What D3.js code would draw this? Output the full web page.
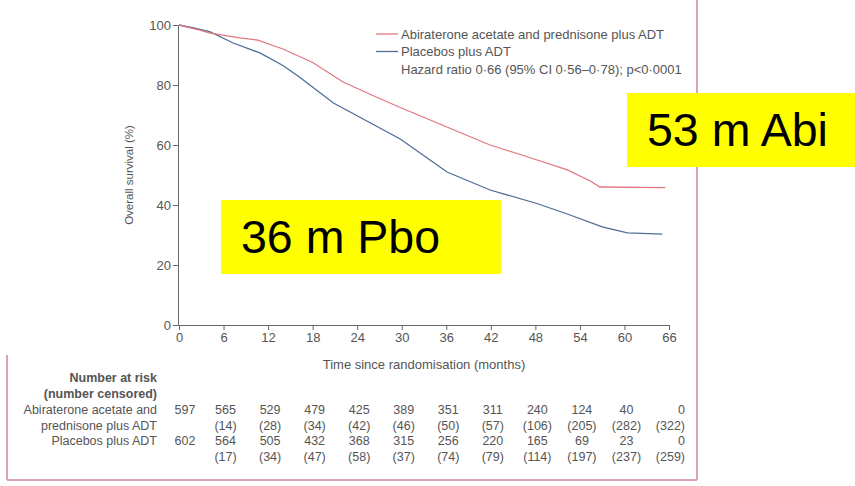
<!DOCTYPE html>
<html>
<head>
<meta charset="utf-8">
<script src="https://cdn.jsdelivr.net/npm/d3@7"></script>
<style>
  body { margin: 0; background: #fff; }
  svg { display: block; }
  text { font-family: "Liberation Sans", Arial, sans-serif; fill: #555; }
</style>
</head>
<body>
<div id="chart"></div>
<script>
// survival curves: [month, percent]
const abiMonths = [0, 2.8, 4.2, 8.2, 10.5, 14, 18, 22.1, 26.1, 29.8, 35.6, 41.9, 47, 52.3, 55.4, 56.7, 65.5];
const abiSurvival = [100, 98.3, 97.3, 95.7, 95, 92, 87.5, 81, 76.5, 72.5, 66.5, 60, 56, 51.7, 48, 46, 45.8];
const pboMonths = [0, 2, 4.2, 7.3, 10.9, 14, 16.3, 20.8, 25.3, 29.8, 36.1, 41.9, 48.2, 52.3, 57, 60.4, 65.1];
const pboSurvival = [100, 99, 97.7, 94, 90.7, 86.5, 82.5, 74, 68, 62, 51, 45, 40.5, 37, 32.7, 30.7, 30.3];

const xTicks = [0, 6, 12, 18, 24, 30, 36, 42, 48, 54, 60, 66];
const yTicks = [0, 20, 40, 60, 80, 100];

const legendLabels = ['Abiraterone acetate and prednisone plus ADT', 'Placebos plus ADT'];
const hazardText = 'Hazard ratio 0·66 (95% CI 0·56–0·78); p<0·0001';

// number at risk table
const abiAtRisk = [597, 565, 529, 479, 425, 389, 351, 311, 240, 124, 40, 0];
const abiCensored = [null, 14, 28, 34, 42, 46, 50, 57, 106, 205, 282, 322];
const pboAtRisk = [602, 564, 505, 432, 368, 315, 256, 220, 165, 69, 23, 0];
const pboCensored = [null, 17, 34, 47, 58, 37, 74, 79, 114, 197, 237, 259];

const callouts = [
  { text: '53 m Abi', x0: 627, y0: 93, x1: 855, y1: 167 },
  { text: '36 m Pbo', x0: 221, y0: 200, x1: 501, y1: 274 }
];

const width = 855;
const height = 486;
const abiColor = '#e0787f';
const pboColor = '#4f6d96';
const axisGray = '#666';

const svg = d3.select('#chart').append('svg')
  .attr('width', width)
  .attr('height', height);

const x = d3.scaleLinear().domain([0, 66]).range([179, 669]);
const y = d3.scaleLinear().domain([0, 100]).range([325, 25]);

// pink frame of the original slide picture
const frame = svg.append('g').attr('stroke', '#d9a3b3').attr('stroke-width', 2);
frame.append('line').attr('x1', 697).attr('x2', 697).attr('y1', 0).attr('y2', 480);
frame.append('line').attr('x1', 7).attr('x2', 697).attr('y1', 480).attr('y2', 480);
frame.append('line').attr('x1', 7).attr('x2', 7).attr('y1', 355).attr('y2', 480);

// axes
const xAxis = svg.append('g')
  .attr('transform', `translate(0,${y(0)})`)
  .call(d3.axisBottom(x).tickValues(xTicks).tickSize(5).tickPadding(3).tickFormat(d3.format('d')));
const yAxis = svg.append('g')
  .attr('transform', `translate(${x(0) - 1},0)`)
  .call(d3.axisLeft(y).tickValues(yTicks).tickSize(5).tickPadding(2).tickFormat(d3.format('d')));

[xAxis, yAxis].forEach(g => {
  g.select('.domain').attr('stroke', axisGray);
  g.selectAll('.tick line').attr('stroke', axisGray);
  g.selectAll('.tick text').style('font-size', '13px').style('fill', '#555');
});

svg.append('text')
  .attr('x', x(33))
  .attr('y', 369)
  .attr('text-anchor', 'middle')
  .style('font-size', '13px')
  .text('Time since randomisation (months)');

svg.append('text')
  .attr('transform', `translate(133,${y(50)}) rotate(-90)`)
  .attr('text-anchor', 'middle')
  .style('font-size', '11.5px')
  .text('Overall survival (%)');

// curves
const line = d3.line()
  .x(d => x(d[0]))
  .y(d => y(d[1]));

const abiData = abiMonths.map((m, i) => [m, abiSurvival[i]]);
const pboData = pboMonths.map((m, i) => [m, pboSurvival[i]]);

svg.append('path')
  .datum(pboData)
  .attr('fill', 'none')
  .attr('stroke', pboColor)
  .attr('stroke-width', 1.3)
  .attr('d', line);

svg.append('path')
  .datum(abiData)
  .attr('fill', 'none')
  .attr('stroke', abiColor)
  .attr('stroke-width', 1.3)
  .attr('d', line);

// legend
const legend = svg.append('g').style('font-size', '13px');
[abiColor, pboColor].forEach((c, i) => {
  const ly = 34 + i * 17.5;
  legend.append('line')
    .attr('x1', 376).attr('x2', 398)
    .attr('y1', ly).attr('y2', ly)
    .attr('stroke', c).attr('stroke-width', 1.3);
  legend.append('text')
    .attr('x', 401).attr('y', ly + 4.5)
    .text(legendLabels[i]);
});
legend.append('text')
  .attr('x', 401).attr('y', 34 + 35 + 4.5)
  .text(hazardText);

// number at risk table
const table = svg.append('g').style('font-size', '12.5px');
table.append('text').attr('x', 157).attr('y', 382).attr('text-anchor', 'end')
  .style('font-weight', 'bold').text('Number at risk');
table.append('text').attr('x', 157).attr('y', 398).attr('text-anchor', 'end')
  .style('font-weight', 'bold').text('(number censored)');

const rowLabels = ['Abiraterone acetate and', 'prednisone plus ADT', 'Placebos plus ADT'];
rowLabels.forEach((t, i) => {
  table.append('text')
    .attr('x', 157).attr('y', 414 + i * 15.5)
    .attr('text-anchor', 'end')
    .text(t);
});

const rows = [
  { vals: abiAtRisk, paren: false, yy: 414 },
  { vals: abiCensored, paren: true, yy: 429.5 },
  { vals: pboAtRisk, paren: false, yy: 445 },
  { vals: pboCensored, paren: true, yy: 460.5 }
];
rows.forEach(r => {
  table.selectAll(null)
    .data(r.vals.map((v, i) => ({ v, t: xTicks[i] })).filter(d => d.v !== null))
    .enter().append('text')
    .attr('x', d => (d.t === 66 ? 685 : x(d.t) + (d.t === 0 ? 6 : 2)))
    .attr('y', r.yy)
    .attr('text-anchor', d => (d.t === 66 ? 'end' : 'middle'))
    .text(d => (r.paren ? `(${d.v})` : d.v));
});

// yellow callouts
callouts.forEach(c => {
  svg.append('rect')
    .attr('x', c.x0).attr('y', c.y0)
    .attr('width', c.x1 - c.x0).attr('height', c.y1 - c.y0)
    .attr('fill', '#ffff00');
  svg.append('text')
    .attr('x', c.x0 + 20)
    .attr('y', c.y0 + 53)
    .style('font-size', '46.5px')
    .style('fill', '#000')
    .text(c.text);
});
</script>
</body>
</html>
